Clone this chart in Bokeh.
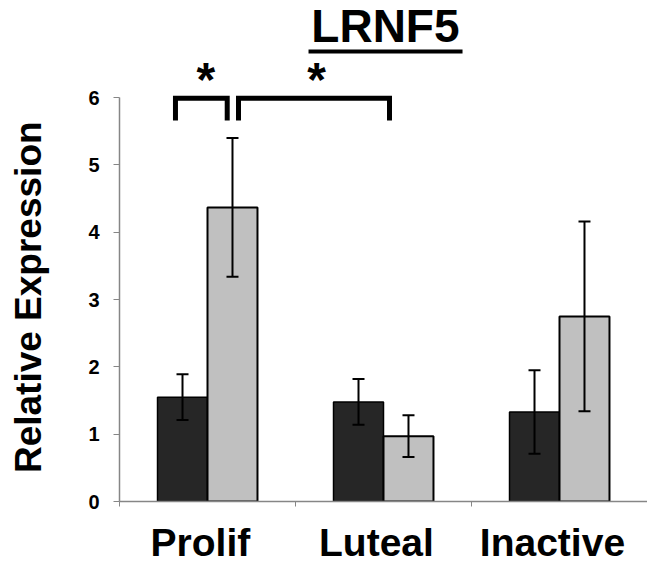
import math
from bokeh.plotting import figure
from bokeh.models import (Range1d, FixedTicker, Whisker, TeeHead, ColumnDataSource, Label)
from bokeh.embed import file_html
from bokeh.resources import INLINE

# ---- data ----
categories = ["Prolif", "Luteal", "Inactive"]
series_a = [1.55, 1.48, 1.33]          # dark bars
series_a_err = [0.34, 0.34, 0.62]
series_b = [4.37, 0.97, 2.75]          # light bars
series_b_err = [1.03, 0.31, 1.41]
y_ticks = [0, 1, 2, 3, 4, 5, 6]

# significance brackets (category coordinate space), and asterisk positions
bracket_from = [0.318, 0.676]
bracket_to = [0.612, 1.534]
bracket_top = 5.99
bracket_bottom = 5.66
star_x = [0.490, 1.120]
star_label = ["*", "*"]

FONT = "Liberation Sans"
DARK = "#262626"
LIGHT = "#c0c0c0"
AXIS = "#868686"

centers = [i + 0.5 for i in range(len(categories))]
label_pos = [i + 0.46 for i in range(len(categories))]
bw = 0.284
xa = [c - bw / 2 for c in centers]
xb = [c + bw / 2 for c in centers]

p = figure(width=647, height=568, output_backend="svg", toolbar_location=None,
           x_range=Range1d(0, 3.0), y_range=Range1d(0, 7.444),
           min_border_left=119, min_border_right=0, min_border_top=0,
           min_border_bottom=67)
p.outline_line_color = None
p.grid.visible = False
p.background_fill_color = "white"
p.border_fill_color = "white"

src_a = ColumnDataSource(dict(x=xa, top=series_a,
                              up=[v + e for v, e in zip(series_a, series_a_err)],
                              lo=[v - e for v, e in zip(series_a, series_a_err)]))
src_b = ColumnDataSource(dict(x=xb, top=series_b,
                              up=[v + e for v, e in zip(series_b, series_b_err)],
                              lo=[v - e for v, e in zip(series_b, series_b_err)]))

p.vbar(x="x", top="top", width=bw, bottom=0, source=src_a,
       fill_color=DARK, line_color="black", line_width=1.5)
p.vbar(x="x", top="top", width=bw, bottom=0, source=src_b,
       fill_color=LIGHT, line_color="black", line_width=2)

for src in (src_a, src_b):
    w = Whisker(source=src, base="x", upper="up", lower="lo",
                line_color="black", line_width=2, level="overlay",
                upper_head=TeeHead(size=12, line_width=2, line_color="black"),
                lower_head=TeeHead(size=12, line_width=2, line_color="black"))
    p.add_layout(w)

# brackets
for x0, x1 in zip(bracket_from, bracket_to):
    p.line([x0, x0, x1, x1], [bracket_bottom, bracket_top, bracket_top, bracket_bottom],
           line_color="black", line_width=5, line_join="miter")

for sx, s in zip(star_x, star_label):
    p.add_layout(Label(x=sx, y=6.263, text=s, text_font=FONT, text_font_style="bold",
                       text_font_size="48px", text_align="center",
                       text_baseline="middle", text_color="black"))

# title with underline
p.add_layout(Label(x=1.511, y=7.058, text="LRNF5", text_font=FONT,
                   text_font_style="bold", text_font_size="46px",
                   text_align="center", text_baseline="alphabetic",
                   text_color="black"))
p.line([1.074, 1.949], [6.686, 6.686], line_color="black", line_width=4)

# axes
ya = p.yaxis[0]
ya.ticker = FixedTicker(ticks=y_ticks)
ya.bounds = (0, 6)
ya.axis_line_color = AXIS
ya.axis_line_width = 1.5
ya.major_tick_line_color = AXIS
ya.major_tick_out = 6
ya.major_tick_in = 0
ya.minor_tick_line_color = None
ya.major_label_text_font = FONT
ya.major_label_text_font_style = "bold"
ya.major_label_text_font_size = "20px"
ya.major_label_text_color = "black"
ya.major_label_standoff = 14
# trailing no-break spaces move the centred label down onto the 0-6 span
ya.axis_label = "Relative Expression" + "\u00a0" * 9
ya.axis_label_text_font = FONT
ya.axis_label_text_font_style = "bold"
ya.axis_label_text_font_size = "37px"
ya.axis_label_text_color = "black"
ya.axis_label_standoff = 36

xa_ax = p.xaxis[0]
xa_ax.ticker = FixedTicker(ticks=label_pos, minor_ticks=[0, 1, 2, 3])
xa_ax.major_label_overrides = {c: n for c, n in zip(label_pos, categories)}
xa_ax.axis_line_color = AXIS
xa_ax.axis_line_width = 1.5
xa_ax.major_tick_line_color = None
xa_ax.major_tick_out = 0
xa_ax.major_tick_in = 0
xa_ax.minor_tick_line_color = AXIS
xa_ax.minor_tick_out = 5
xa_ax.minor_tick_in = 0
xa_ax.major_label_text_font = FONT
xa_ax.major_label_text_font_style = "bold"
xa_ax.major_label_text_font_size = "39px"
xa_ax.major_label_text_color = "black"
xa_ax.major_label_standoff = 14

open("out.html", "w").write(file_html(p, INLINE))
